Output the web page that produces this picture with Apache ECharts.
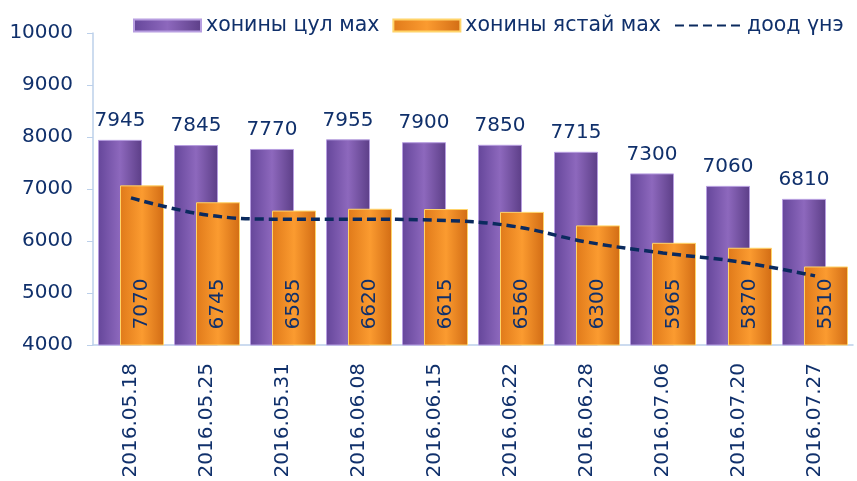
<!DOCTYPE html>
<html>
<head>
<meta charset="utf-8">
<script src="https://cdn.jsdelivr.net/npm/echarts@6/dist/echarts.min.js"></script>
<style>
  html, body { margin: 0; padding: 0; background: #fff; }
  #main { width: 857px; height: 481px; }
</style>
</head>
<body>
<div id="main"></div>
<script>
// chart data
var dates = ['2016.05.18', '2016.05.25', '2016.05.31', '2016.06.08', '2016.06.15',
  '2016.06.22', '2016.06.28', '2016.07.06', '2016.07.20', '2016.07.27']
var tsulMakh = [7945, 7845, 7770, 7955, 7900, 7850, 7715, 7300, 7060, 6810]
var yastaiMakh = [7070, 6745, 6585, 6620, 6615, 6560, 6300, 5965, 5870, 5510]
var doodUne = [6830, 6500, 6420, 6420, 6400, 6290, 5980, 5770, 5600, 5330]

var navy = '#10306b'
var fnt = 'DejaVu Sans'

var mychart = echarts.init(document.getElementById('main'))
var option = {
  animation: false,
  textStyle: { fontFamily: fnt, color: navy },
  legend: {
    top: 10,
    left: 128,
    width: 729,
    itemWidth: 67,
    itemHeight: 12,
    itemGap: 13,
    textStyle: { fontFamily: fnt, fontSize: 20.5, color: navy },
    data: [
      { name: 'хонины цул мах', icon: 'rect' },
      { name: 'хонины ястай мах', icon: 'rect' },
      { name: 'доод үнэ', itemStyle: { opacity: 0 } }
    ]
  },
  grid: { left: 93, right: 4, top: 33, bottom: 136 },
  xAxis: {
    type: 'category',
    data: dates,
    axisLine: { lineStyle: { color: '#bcd0ea', width: 1.5 } },
    axisTick: { length: 6, lineStyle: { color: '#bcd0ea' } },
    axisLabel: { rotate: 90, margin: 18, fontSize: 20, color: navy, fontFamily: fnt }
  },
  yAxis: {
    type: 'value',
    min: 4000,
    max: 10000,
    interval: 1000,
    splitLine: { show: false },
    axisLine: { show: true, lineStyle: { color: '#bcd0ea', width: 1.5 } },
    axisTick: { show: true, length: 6, lineStyle: { color: '#bcd0ea' } },
    axisLabel: {
      margin: 20, fontSize: 20, color: navy, fontFamily: fnt,
      formatter: function (v) { return String(v) }
    }
  },
  series: [
    {
      name: 'хонины цул мах',
      type: 'bar',
      data: tsulMakh,
      barWidth: 44,
      barGap: '-50%',
      itemStyle: {
        color: new echarts.graphic.LinearGradient(0, 0, 1, 0, [
          { offset: 0, color: '#65469a' },
          { offset: 0.5, color: '#8d68bd' },
          { offset: 1, color: '#5c3e87' }
        ]),
        borderColor: '#b79ee0',
        borderWidth: 1
      },
      label: {
        show: true, position: 'top', distance: 9,
        fontSize: 20, color: navy, fontFamily: fnt
      }
    },
    {
      name: 'хонины ястай мах',
      type: 'bar',
      data: yastaiMakh,
      barWidth: 44,
      itemStyle: {
        color: new echarts.graphic.LinearGradient(0, 0, 1, 0, [
          { offset: 0, color: '#e07a1a' },
          { offset: 0.5, color: '#fb9b30' },
          { offset: 1, color: '#d26c14' }
        ]),
        borderColor: '#ffd46a',
        borderWidth: 1
      },
      label: {
        show: true, position: 'insideBottom', rotate: 90,
        align: 'left', verticalAlign: 'middle', distance: 16,
        fontSize: 20, color: navy, fontFamily: fnt
      }
    },
    {
      name: 'доод үнэ',
      type: 'line',
      data: doodUne,
      smooth: 0.4,
      symbol: 'none',
      z: 5,
      lineStyle: { color: '#0b2a5e', width: 3.5, type: [9, 5] },
      itemStyle: { color: '#0b2a5e' }
    }
  ]
}
mychart.setOption(option)
</script>
</body>
</html>
